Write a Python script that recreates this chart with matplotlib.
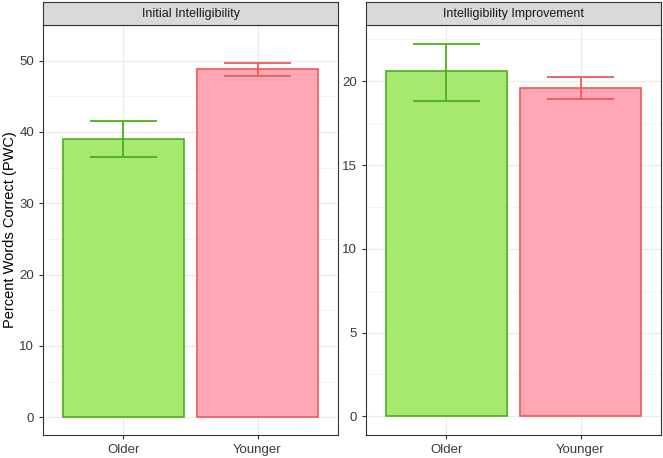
import matplotlib.pyplot as plt

plt.rcParams['font.family'] = ['Liberation Sans', 'DejaVu Sans']

groups = ['Older', 'Younger']
panels = ['Initial Intelligibility', 'Intelligibility Improvement']
means = [[39.0, 48.8], [20.6, 19.6]]
lower = [[36.5, 47.8], [18.85, 18.95]]
upper = [[41.5, 49.7], [22.25, 20.25]]
major_ticks = [[0, 10, 20, 30, 40, 50], [0, 5, 10, 15, 20]]

fills = ['#a6e870', '#ffa7b5']
edges = ['#4bb01b', '#f05a5a']

fig = plt.figure(figsize=(6.63, 4.58), dpi=100)
W, H = 663, 458
boxes = [(43, 338), (366, 661)]
top, bottom, strip_h = 25, 435, 23

for i, (x0, x1) in enumerate(boxes):
    ax = fig.add_axes([x0 / W, (H - bottom) / H, (x1 - x0) / W, (bottom - top) / H])
    xs = range(len(groups))
    ax.bar(xs, means[i], width=0.9, color=fills, edgecolor=edges, linewidth=1.2, zorder=3)
    for x, lo, hi, ec in zip(xs, lower[i], upper[i], edges):
        ax.vlines(x, lo, hi, color=ec, linewidth=1.3, zorder=4)
        ax.hlines([lo, hi], x - 0.25, x + 0.25, color=ec, linewidth=1.3, zorder=4)
    hi_max = max(upper[i])
    ax.set_ylim(-0.05 * hi_max, 1.05 * hi_max)
    ax.set_xlim(-0.6, len(groups) - 0.4)
    ax.set_xticks(list(xs))
    ax.set_xticklabels(groups)
    ax.set_yticks(major_ticks[i])
    step = major_ticks[i][1] - major_ticks[i][0]
    ax.set_yticks([t + step / 2 for t in major_ticks[i]], minor=True)
    ax.tick_params(axis='y', which='minor', length=0)
    ax.tick_params(which='major', labelsize=9.5, labelcolor='#3a3a3a', color='#333333', length=3, width=0.8)
    ax.grid(which='major', color='#ebebeb', linewidth=0.9, zorder=0)
    ax.grid(which='minor', axis='y', color='#f2f2f2', linewidth=0.5, zorder=0)
    ax.set_axisbelow(True)
    for s in ax.spines.values():
        s.set_color('#333333')
        s.set_linewidth(0.8)
    # facet strip
    sax = fig.add_axes([x0 / W, (H - top) / H, (x1 - x0) / W, strip_h / H])
    sax.set_xticks([])
    sax.set_yticks([])
    sax.set_facecolor('#d9d9d9')
    for s in sax.spines.values():
        s.set_color('#333333')
        s.set_linewidth(0.8)
    sax.text(0.5, 0.5, panels[i], ha='center', va='center', fontsize=9, color='#1a1a1a',
             transform=sax.transAxes)
    if i == 0:
        ax.set_ylabel('Percent Words Correct (PWC)', fontsize=10.5)
        ax.yaxis.set_label_coords(-26 / (x1 - x0), 0.5)

fig.savefig('out.png', dpi=100)
